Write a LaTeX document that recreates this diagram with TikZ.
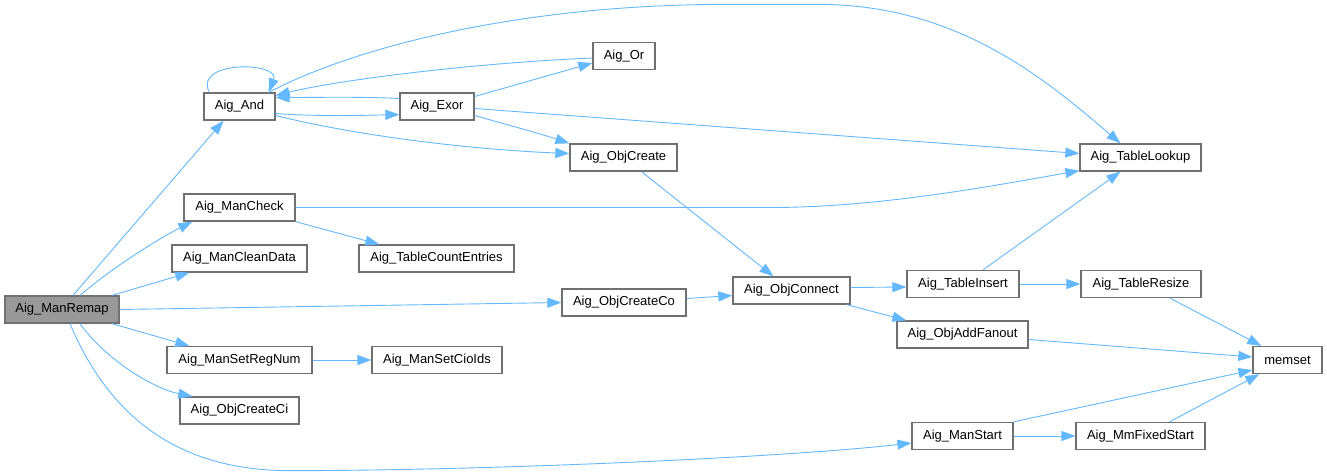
\documentclass[tikz,border=0pt]{standalone}
\usepackage{fontspec}
\setmainfont{Liberation Sans}
\usetikzlibrary{arrows.meta,calc}
\definecolor{edgec}{HTML}{63B8FF}
\definecolor{boxc}{HTML}{707070}
\definecolor{rootc}{HTML}{999999}
\tikzset{
  box/.style={draw=boxc,line width=1.3pt,fill=white,inner sep=0pt,minimum height=27pt,font=\fontsize{13}{15}\selectfont},
  rootbox/.style={box,fill=rootc},
  e/.style={draw=edgec,line width=0.9pt,-{Triangle[length=14pt,width=10pt]}}
}
\begin{document}
\begin{tikzpicture}[x=1pt,y=-1pt]
\useasboundingbox (0,0) rectangle (1327,475);
\node[rootbox,minimum width=114pt] (remap) at (62,309.5) {Aig\_ManRemap};
\node[box,minimum width=71pt] (and) at (239.5,106.5) {Aig\_And};
\node[box,minimum width=74pt] (exor) at (437,106.5) {Aig\_Exor};
\node[box,minimum width=111pt] (mancheck) at (239.5,207.5) {Aig\_ManCheck};
\node[box,minimum width=135pt] (cleandata) at (239.5,258.5) {Aig\_ManCleanData};
\node[box,minimum width=155pt] (countent) at (436.5,258.5) {Aig\_TableCountEntries};
\node[box,minimum width=145pt] (setreg) at (239.5,360) {Aig\_ManSetRegNum};
\node[box,minimum width=130pt] (setcio) at (437,360) {Aig\_ManSetCioIds};
\node[box,minimum width=119pt] (createci) at (239.5,410.5) {Aig\_ObjCreateCi};
\node[box,minimum width=62pt] (or) at (624,56) {Aig\_Or};
\node[box,minimum width=107pt] (objcreate) at (623.5,157.5) {Aig\_ObjCreate};
\node[box,minimum width=124pt] (createco) at (624,302.5) {Aig\_ObjCreateCo};
\node[box,minimum width=117pt] (connect) at (791.5,290.5) {Aig\_ObjConnect};
\node[box,minimum width=121pt] (lookup) at (1140.5,157.5) {Aig\_TableLookup};
\node[box,minimum width=112pt] (insert) at (963,284) {Aig\_TableInsert};
\node[box,minimum width=131pt] (fanout) at (962.5,334.5) {Aig\_ObjAddFanout};
\node[box,minimum width=120pt] (resize) at (1141,284) {Aig\_TableResize};
\node[box,minimum width=69pt] (memset) at (1287.5,360) {memset};
\node[box,minimum width=101pt] (manstart) at (962.5,436) {Aig\_ManStart};
\node[box,minimum width=129pt] (mmfixed) at (1140.5,436) {Aig\_MmFixedStart};

% from Aig_ManRemap
\draw[e] ($(remap.north)+(11,0)$) -- ($(and.south)+(-16,0)$);
\draw[e] ($(remap.north)+(18,0)$) .. controls +(35,-30) and +(-30,15) .. ($(mancheck.south west)+(9,0)$);
\draw[e] ($(remap.north)+(50,0)$) -- ($(cleandata.south west)+(18,0)$);
\draw[e] (remap.east) -- (createco.west);
\draw[e] ($(remap.south)+(50,0)$) -- ($(setreg.north west)+(23,0)$);
\draw[e] ($(remap.south)+(18,0)$) .. controls +(25,35) and +(-40,-8) .. ($(createci.north west)+(13,0)$);
\draw[e] ($(remap.south)+(8,0)$) .. controls +(40,95) and +(-110,0) .. ($(remap.south)+(228,147)$)
  .. controls +(190,0) and +(-132,15) .. ($(manstart.west)+(0,7)$);

% Aig_And
\draw[e] ($(and.north west)+(6,0)$) .. controls +(-17,-32) and +(12,-31) .. ($(and.north east)+(-7,0)$);
\draw[e] ($(and.east)+(0,7)$) .. controls +(40,3) and +(-40,1) .. ($(exor.west)+(0,8)$);
\draw[e] ($(and.east)+(0,9)$) .. controls +(80,20) and +(-100,-4) .. ($(objcreate.west)+(0,-4)$);
\draw[e] ($(and.north east)+(-7,0)$) .. controls +(92,-48) and +(-200,0) .. ($(and.north east)+(452,-88)$)
  -- ($(and.north east)+(542,-88)$) .. controls +(140,0) and +(-75,-64) .. ($(lookup.north)+(-20,0)$);

% Aig_Exor
\draw[e] ($(exor.west)+(0,-8)$) .. controls +(-40,-2) and +(40,0) .. ($(and.east)+(0,-9)$);
\draw[e] ($(exor.east)+(0,-10)$) -- ($(or.west)+(0,7)$);
\draw[e] ($(exor.east)+(0,9)$) .. controls +(35,10) and +(-30,-10) .. (objcreate.north west);
\draw[e] ($(exor.east)+(0,2)$) -- ($(lookup.west)+(0,-4)$);

% Aig_Or
\draw[e] ($(or.west)+(0,2)$) .. controls +(-120,5) and +(60,-15) .. ($(and.east)+(0,-11)$);

% Aig_ManCheck
\draw[e] (mancheck.east) -- ($(mancheck.east)+(475,0)$) .. controls +(110,0) and +(-80,14) .. ($(lookup.south west)+(0,-1)$);
\draw[e] (mancheck.south east) -- ($(countent.north west)+(21,0)$);

% others
\draw[e] (setreg.east) -- (setcio.west);
\draw[e] ($(objcreate.south)+(18,0)$) -- ($(connect.north)+(-18,0)$);
\draw[e] ($(createco.east)+(0,-4)$) -- ($(connect.west)+(0,5)$);
\draw[e] ($(connect.east)+(0,-3)$) -- ($(insert.west)+(0,3)$);
\draw[e] ($(connect.south east)+(-4,0)$) -- ($(fanout.north west)+(10,0)$);
\draw[e] ($(insert.north)+(20,0)$) -- ($(lookup.south)+(-20,0)$);
\draw[e] (insert.east) -- (resize.west);
\draw[e] ($(resize.south)+(29,0)$) -- ($(memset.north west)+(9,0)$);
\draw[e] ($(fanout.east)+(0,5)$) -- ($(memset.west)+(0,-3)$);
\draw[e] (manstart.north east) -- ($(memset.west)+(0,10)$);
\draw[e] (manstart.east) -- (mmfixed.west);
\draw[e] ($(mmfixed.north)+(29,0)$) -- ($(memset.south west)+(7,0)$);
\end{tikzpicture}
\end{document}
